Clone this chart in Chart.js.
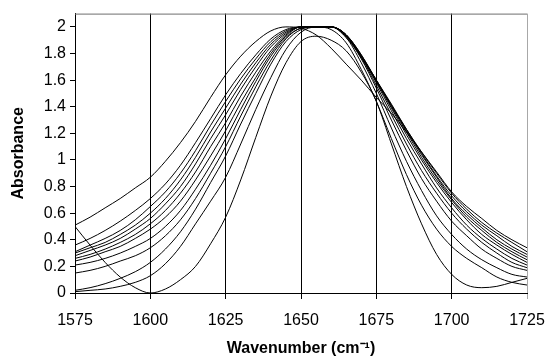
<!DOCTYPE html>
<html>
<head>
<meta charset="utf-8">
<script src="https://cdn.jsdelivr.net/npm/chart.js@4.4.1/dist/chart.umd.min.js"></script>
<style>
  html, body { margin: 0; padding: 0; background: #fff; }
  canvas { display: block; }
</style>
</head>
<body>
<canvas id="irChart" width="546" height="358"></canvas>
<script>
// wavenumber grid (cm-1), one value every 5
const wavenumbers = [1575, 1580, 1585, 1590, 1595, 1600, 1605, 1610, 1615, 1620,
  1625, 1630, 1635, 1640, 1645, 1650, 1655, 1660, 1665, 1670,
  1675, 1680, 1685, 1690, 1695, 1700, 1705, 1710, 1715, 1720, 1725];
const xTicks = [1575, 1600, 1625, 1650, 1675, 1700, 1725];
const yTicks = [0, 0.2, 0.4, 0.6, 0.8, 1, 1.2, 1.4, 1.6, 1.8, 2];

// absorbance, broadest first
const spectrum1 = [0.51, 0.57, 0.64, 0.71, 0.79, 0.87, 0.99, 1.13, 1.29, 1.47,
  1.64, 1.78, 1.89, 1.97, 2.0, 1.99, 1.94, 1.84, 1.72, 1.60,
  1.47, 1.35, 1.21, 1.06, 0.91, 0.76, 0.65, 0.56, 0.47, 0.40, 0.34];
const spectrum2 = [0.36, 0.41, 0.47, 0.54, 0.62, 0.71, 0.82, 0.96, 1.13, 1.31,
  1.49, 1.65, 1.79, 1.91, 1.98, 2.0, 2.0, 2.0, 1.92, 1.77,
  1.59, 1.41, 1.23, 1.06, 0.90, 0.75, 0.63, 0.53, 0.45, 0.38, 0.31];
const spectrum3 = [0.31, 0.36, 0.41, 0.47, 0.55, 0.65, 0.76, 0.90, 1.07, 1.26,
  1.44, 1.61, 1.76, 1.89, 1.97, 2.0, 2.0, 2.0, 1.93, 1.78,
  1.60, 1.42, 1.23, 1.05, 0.88, 0.73, 0.61, 0.51, 0.43, 0.35, 0.29];
const spectrum4 = [0.30, 0.34, 0.38, 0.44, 0.51, 0.60, 0.71, 0.85, 1.02, 1.21,
  1.39, 1.57, 1.73, 1.87, 1.96, 2.0, 2.0, 2.0, 1.93, 1.78,
  1.60, 1.41, 1.22, 1.04, 0.87, 0.71, 0.59, 0.49, 0.40, 0.33, 0.27];
const spectrum5 = [0.28, 0.32, 0.36, 0.41, 0.48, 0.56, 0.67, 0.80, 0.97, 1.16,
  1.34, 1.53, 1.70, 1.85, 1.95, 2.0, 2.0, 2.0, 1.94, 1.79,
  1.60, 1.40, 1.21, 1.02, 0.85, 0.70, 0.57, 0.47, 0.38, 0.31, 0.25];
const spectrum6 = [0.26, 0.29, 0.33, 0.38, 0.44, 0.52, 0.62, 0.75, 0.91, 1.10,
  1.28, 1.48, 1.66, 1.82, 1.94, 2.0, 2.0, 2.0, 1.94, 1.79,
  1.59, 1.39, 1.19, 1.00, 0.83, 0.68, 0.55, 0.44, 0.36, 0.29, 0.23];
const spectrum7 = [0.24, 0.27, 0.31, 0.35, 0.41, 0.48, 0.57, 0.69, 0.85, 1.03,
  1.22, 1.43, 1.62, 1.80, 1.93, 2.0, 2.0, 2.0, 1.94, 1.78,
  1.58, 1.37, 1.16, 0.97, 0.79, 0.64, 0.51, 0.41, 0.33, 0.26, 0.21];
const spectrum8 = [0.21, 0.23, 0.26, 0.30, 0.35, 0.41, 0.50, 0.62, 0.78, 0.96,
  1.16, 1.38, 1.59, 1.78, 1.92, 1.99, 2.0, 2.0, 1.94, 1.77,
  1.56, 1.34, 1.12, 0.92, 0.75, 0.60, 0.48, 0.38, 0.30, 0.23, 0.19];
const spectrum9 = [0.15, 0.17, 0.20, 0.24, 0.28, 0.34, 0.43, 0.55, 0.71, 0.90,
  1.10, 1.33, 1.55, 1.75, 1.91, 1.99, 2.0, 2.0, 1.93, 1.76,
  1.54, 1.30, 1.07, 0.86, 0.69, 0.54, 0.43, 0.33, 0.26, 0.20, 0.17];
const spectrum10 = [0.02, 0.04, 0.07, 0.11, 0.16, 0.23, 0.33, 0.46, 0.63, 0.83,
  1.03, 1.27, 1.50, 1.72, 1.89, 1.98, 2.0, 2.0, 1.92, 1.73,
  1.50, 1.24, 0.99, 0.77, 0.58, 0.44, 0.33, 0.25, 0.19, 0.14, 0.12];
const spectrum11 = [0.01, 0.02, 0.03, 0.05, 0.08, 0.13, 0.22, 0.35, 0.52, 0.69,
  0.87, 1.12, 1.38, 1.62, 1.83, 1.96, 2.0, 1.98, 1.88, 1.68,
  1.44, 1.16, 0.89, 0.66, 0.48, 0.35, 0.26, 0.19, 0.12, 0.08, 0.06];
const spectrum12 = [0.50, 0.36, 0.23, 0.12, 0.04, 0.0, 0.03, 0.10, 0.20, 0.37,
  0.57, 0.85, 1.17, 1.48, 1.73, 1.89, 1.93, 1.90, 1.82, 1.66,
  1.44, 1.12, 0.80, 0.52, 0.29, 0.14, 0.06, 0.04, 0.05, 0.08, 0.11];

const spectra = [spectrum1, spectrum2, spectrum3, spectrum4, spectrum5, spectrum6,
  spectrum7, spectrum8, spectrum9, spectrum10, spectrum11, spectrum12];

Chart.defaults.font.family = '"Liberation Sans", Arial, sans-serif';
Chart.defaults.color = '#000';

// gray frame on top of the plot area
const frame = {
  id: 'frame',
  afterDraw(chart) {
    const a = chart.chartArea, c = chart.ctx;
    c.save();
    c.strokeStyle = '#6e6e6e';
    c.lineWidth = 1;
    c.beginPath();
    c.moveTo(a.left, a.top + 0.5);
    c.lineTo(a.right, a.top + 0.5);
    c.stroke();
    c.restore();
  }
};

var ctx = document.getElementById('irChart').getContext('2d');
var irChart = new Chart(ctx, {
  type: 'line',
  data: {
    datasets: spectra.map(function (s, k) {
      return {
        label: 'spectrum ' + (k + 1),
        data: s.map(function (v, i) { return { x: wavenumbers[i], y: v }; }),
        borderColor: '#000',
        borderWidth: 1,
        pointRadius: 0,
        fill: false,
        cubicInterpolationMode: 'monotone'
      };
    })
  },
  options: {
    responsive: false,
    animation: false,
    devicePixelRatio: 1,
    layout: { padding: { top: 13, right: 19, left: 0, bottom: 0 } },
    plugins: { legend: { display: false }, tooltip: { enabled: false } },
    scales: {
      x: {
        type: 'linear',
        min: 1575,
        max: 1725,
        afterBuildTicks: function (scale) { scale.ticks = xTicks.map(function (v) { return { value: v }; }); },
        afterFit: function (scale) {
          scale.height = 65;
          scale.paddingLeft = 0;
          scale.paddingRight = 0;
        },
        ticks: {
          font: { size: 16 },
          padding: 12,
          maxRotation: 0,
          callback: function (v) { return String(v); }
        },
        grid: {
          color: function (c) { return c.tick && c.tick.value === 1725 ? '#a8a8a8' : '#000'; },
          lineWidth: 1,
          tickLength: 6
        },
        border: { color: '#000', width: 1 },
        title: {
          display: true,
          text: 'Wavenumber (cm\u207B\u00B9)',
          font: { size: 16, weight: 'bold' },
          padding: { top: 0, bottom: 0 }
        }
      },
      y: {
        min: 0,
        max: 2.1,
        afterBuildTicks: function (scale) { scale.ticks = yTicks.map(function (v) { return { value: v }; }); },
        afterFit: function (scale) { scale.width = 75; },
        ticks: {
          font: { size: 16 },
          padding: 4,
          callback: function (v) { return String(Math.round(v * 10) / 10); }
        },
        grid: { drawOnChartArea: false, color: '#000', tickLength: 5 },
        border: { color: '#000', width: 1 },
        title: {
          display: true,
          text: 'Absorbance',
          font: { size: 16, weight: 'bold' },
          padding: { top: 9, bottom: 0 }
        }
      }
    }
  },
  plugins: [frame]
});
</script>
</body>
</html>
